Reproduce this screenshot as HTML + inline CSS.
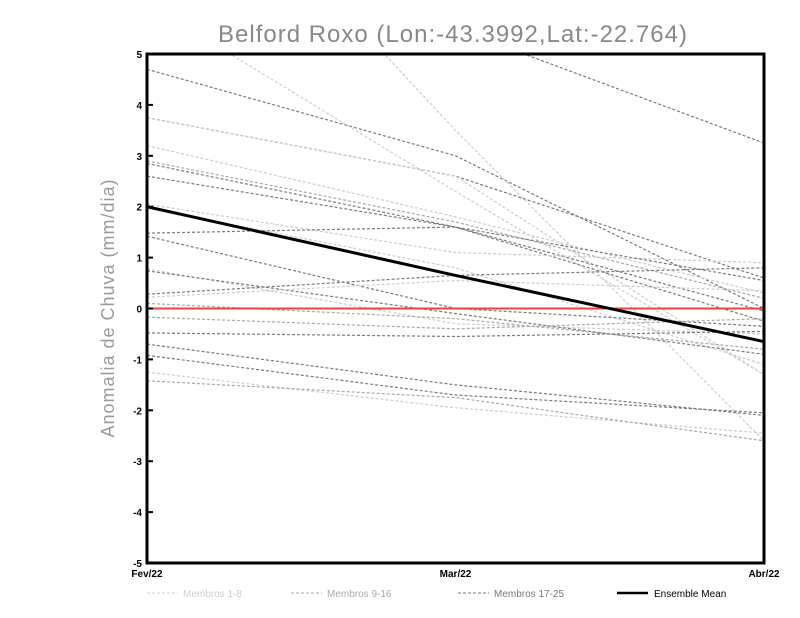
<!DOCTYPE html>
<html><head><meta charset="utf-8"><style>
body{margin:0;background:#fff;}
svg{display:block;font-family:"Liberation Sans",sans-serif;}
</style></head><body>
<svg id="chart" width="800" height="618">
<defs><clipPath id="clip"><rect x="147" y="54" width="617" height="509"/></clipPath></defs>
<text x="453" y="42" text-anchor="middle" font-size="24" fill="#888" letter-spacing="1">Belford Roxo (Lon:-43.3992,Lat:-22.764)</text>
<text transform="translate(114,308) rotate(-90)" text-anchor="middle" font-size="18" fill="#999" letter-spacing="1">Anomalia de Chuva (mm/dia)</text>
<g id="lines" clip-path="url(#clip)"></g>
<g id="axes"></g>
<rect x="147" y="54" width="617" height="509" fill="none" stroke="#000" stroke-width="3"/>
<g id="legend" font-size="10">
<line x1="147" y1="593" x2="178" y2="593" stroke="#ccc" stroke-dasharray="3,2"/>
<text x="183" y="597" fill="#ccc">Membros 1-8</text>
<line x1="291" y1="593" x2="322" y2="593" stroke="#aaa" stroke-dasharray="3,2"/>
<text x="327" y="597" fill="#aaa">Membros 9-16</text>
<line x1="458" y1="593" x2="489" y2="593" stroke="#777" stroke-dasharray="3,2"/>
<text x="494" y="597" fill="#777">Membros 17-25</text>
<line x1="617" y1="593" x2="648" y2="593" stroke="#000" stroke-width="2.5"/>
<text x="654" y="597" fill="#000">Ensemble Mean</text>
</g>
</svg>
<script>
const categories=["Fev/22","Mar/22","Abr/22"];
const yTicks=[-5,-4,-3,-2,-1,0,1,2,3,4,5];
const memberGroups=["dark","dark","dark","light","light","light","light","mid","dark","dark","light","light","dark","dark","light","dark","dark","light","mid","mid","dark","dark","dark","light","mid"];
const memberFev=[4.7,8.0,3.75,3.75,10,6,3.2,2.9,2.85,2.6,2.05,1.97,1.48,1.42,0.78,0.74,0.28,0.22,0.1,-0.17,-0.48,-0.7,-0.92,-1.25,-1.42];
const memberMar=[3.0,5.5,2.6,2.6,3.5,2.3,1.8,1.7,1.6,1.6,1.1,0.8,1.6,0.0,-0.3,-0.1,0.65,0.55,-0.2,-0.4,-0.55,-1.5,-1.7,-1.95,-1.75];
const memberAbr=[0.0,3.25,0.6,-1.3,-2.6,-1.3,0.3,0.2,-0.05,-0.25,0.9,-1.1,0.55,-0.35,-0.5,-0.9,0.8,0.35,-0.8,-0.2,-0.45,-2.1,-2.05,-2.45,-2.6];
const meanValues=[2.0,0.65,-0.65];

const NS="http://www.w3.org/2000/svg";
const X0=147,X1=764,Y0=563,Y1=54;
function xs(i){return X0+(X1-X0)*i/(categories.length-1);}
function ys(v){return Y0-(v+5)/10*(Y0-Y1);}
const colors={light:"#cdcdcd",mid:"#a8a8a8",dark:"#7a7a7a"};
const lg=document.getElementById("lines");
function poly(vals,stroke,w,dash){
  const p=document.createElementNS(NS,"polyline");
  p.setAttribute("points",vals.map((v,i)=>xs(i)+","+ys(v)).join(" "));
  p.setAttribute("fill","none");p.setAttribute("stroke",stroke);p.setAttribute("stroke-width",w);
  if(dash)p.setAttribute("stroke-dasharray",dash);
  lg.appendChild(p);return p;
}
for(let k=0;k<memberFev.length;k++){
  const p=poly([memberFev[k],memberMar[k],memberAbr[k]],colors[memberGroups[k]],1.2,"3,2");
  
  
}
const zl=document.createElementNS(NS,"line");
zl.setAttribute("x1",X0);zl.setAttribute("x2",X1);zl.setAttribute("y1",ys(0));zl.setAttribute("y2",ys(0));
zl.setAttribute("stroke","#f04040");zl.setAttribute("stroke-width","2");


lg.appendChild(zl);
const m=poly(meanValues,"#000",3,null);



const ax=document.getElementById("axes");
yTicks.forEach(v=>{
  const t=document.createElementNS(NS,"line");
  t.setAttribute("x1",X0);t.setAttribute("x2",X0+6);t.setAttribute("y1",ys(v));t.setAttribute("y2",ys(v));
  t.setAttribute("stroke","#000");t.setAttribute("stroke-width","2");
  
  
  ax.appendChild(t);
  const tx=document.createElementNS(NS,"text");
  tx.setAttribute("x",X0-5);tx.setAttribute("y",ys(v)+4);tx.setAttribute("text-anchor","end");
  tx.setAttribute("font-size","10");tx.setAttribute("font-weight","bold");
  tx.textContent=v;
  
  
  ax.appendChild(tx);
});
categories.forEach((c,i)=>{
  const tx=document.createElementNS(NS,"text");
  tx.setAttribute("x",xs(i));tx.setAttribute("y",577);tx.setAttribute("text-anchor","middle");
  tx.setAttribute("font-size","10");tx.setAttribute("font-weight","bold");
  tx.textContent=c;
  
  
  ax.appendChild(tx);
});
</script>
</body></html>
